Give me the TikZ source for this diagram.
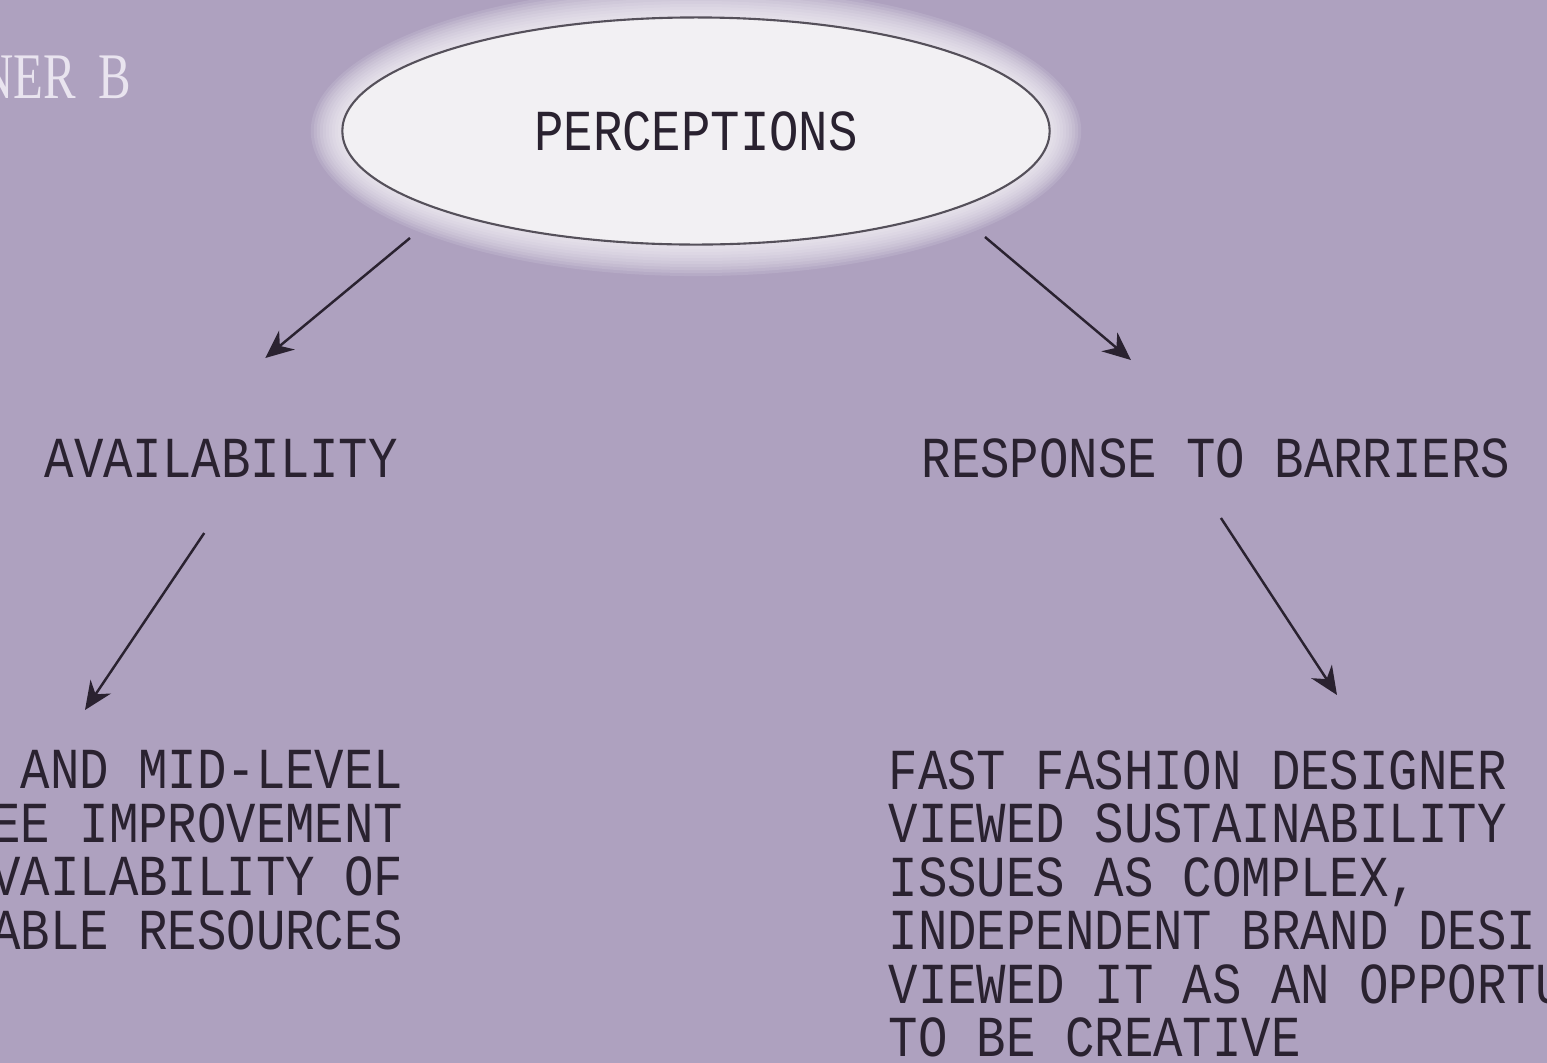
\documentclass[tikz,border=0pt]{standalone}
\usepackage{fontspec}
\usetikzlibrary{shapes.geometric,arrows.meta}
% lettering: a light condensed monospace and a condensed serif
\newfontfamily\plotfont[FakeStretch=0.845]{Liberation Mono}
\newfontfamily\headfont[FakeStretch=0.75]{Liberation Serif}
\definecolor{bg}{HTML}{AEA1BF}
\definecolor{ink}{HTML}{2A2230}
\definecolor{bubble}{HTML}{F2F0F3}
\definecolor{rim}{HTML}{55505A}
\definecolor{pale}{HTML}{E9E4EF}
\begin{document}
\begin{tikzpicture}[x=0.01cm,y=-0.01cm,
  lbl/.style={font=\plotfont\fontsize{16.5pt}{15.2pt}\selectfont, text=ink, inner sep=0pt},
  bubblenode/.style={ellipse, draw=rim, line width=0.6pt, fill=bubble,
    minimum width=7.07cm, minimum height=2.27cm, inner sep=0pt,
    font=\plotfont\fontsize{16.5pt}{15.2pt}\selectfont, text=ink},
  arr/.style={draw=ink, line width=0.7pt, -{Stealth[length=8pt,width=7pt]}}]
\useasboundingbox (0,0) rectangle (1547,1063);
\clip (0,0) rectangle (1547,1063);
\fill[bg] (0,0) rectangle (1547,1063);

% soft white halo hugging the central bubble
\foreach \d in {32,29,...,2}
  \fill[white, opacity=0.11] (696,131) ellipse [x radius={3.53cm+\d*0.01cm}, y radius={1.13cm+\d*0.01cm}];

% heading fragment, top left
\node[font=\headfont\fontsize{18.5pt}{20pt}\selectfont, text=pale, anchor=base east, inner sep=0pt] (tag) at (132,98) {NER\hspace{0.35em}B};

% central concept
\node[bubblenode] (perc) at (696,131) {PERCEPTIONS};

% second level
\node[lbl, anchor=base west] (avail) at (44,477) {AVAILABILITY};
\node[lbl, anchor=base west] (resp) at (921,477) {RESPONSE TO BARRIERS};

% third level text blocks
\node[lbl, anchor=north east, align=right] (leftblk) at (404,750)
  {H AND MID-LEVEL\\EE IMPROVEMENT\\VAILABILITY OF\\ABLE RESOURCES};
\node[lbl, anchor=north west, align=left] (rightblk) at (888,750)
  {FAST FASHION DESIGNER\\VIEWED SUSTAINABILITY\\ISSUES AS COMPLEX,\\INDEPENDENT BRAND DESI\\VIEWED IT AS AN OPPORTU\\TO BE CREATIVE};

% connectors
\draw[arr] ([shift={(-286,107)}]perc.center) -- ([shift={(44,-119)}]avail.base);
\draw[arr] ([shift={(289,106)}]perc.center) -- ([shift={(-85,-117)}]resp.base);
\draw[arr] ([shift={(-17,56)}]avail.base) -- ([shift={(-319,-40)}]leftblk.north east);
\draw[arr] ([shift={(5,41)}]resp.base) -- ([shift={(449,-55)}]rightblk.north west);
\end{tikzpicture}
\end{document}
